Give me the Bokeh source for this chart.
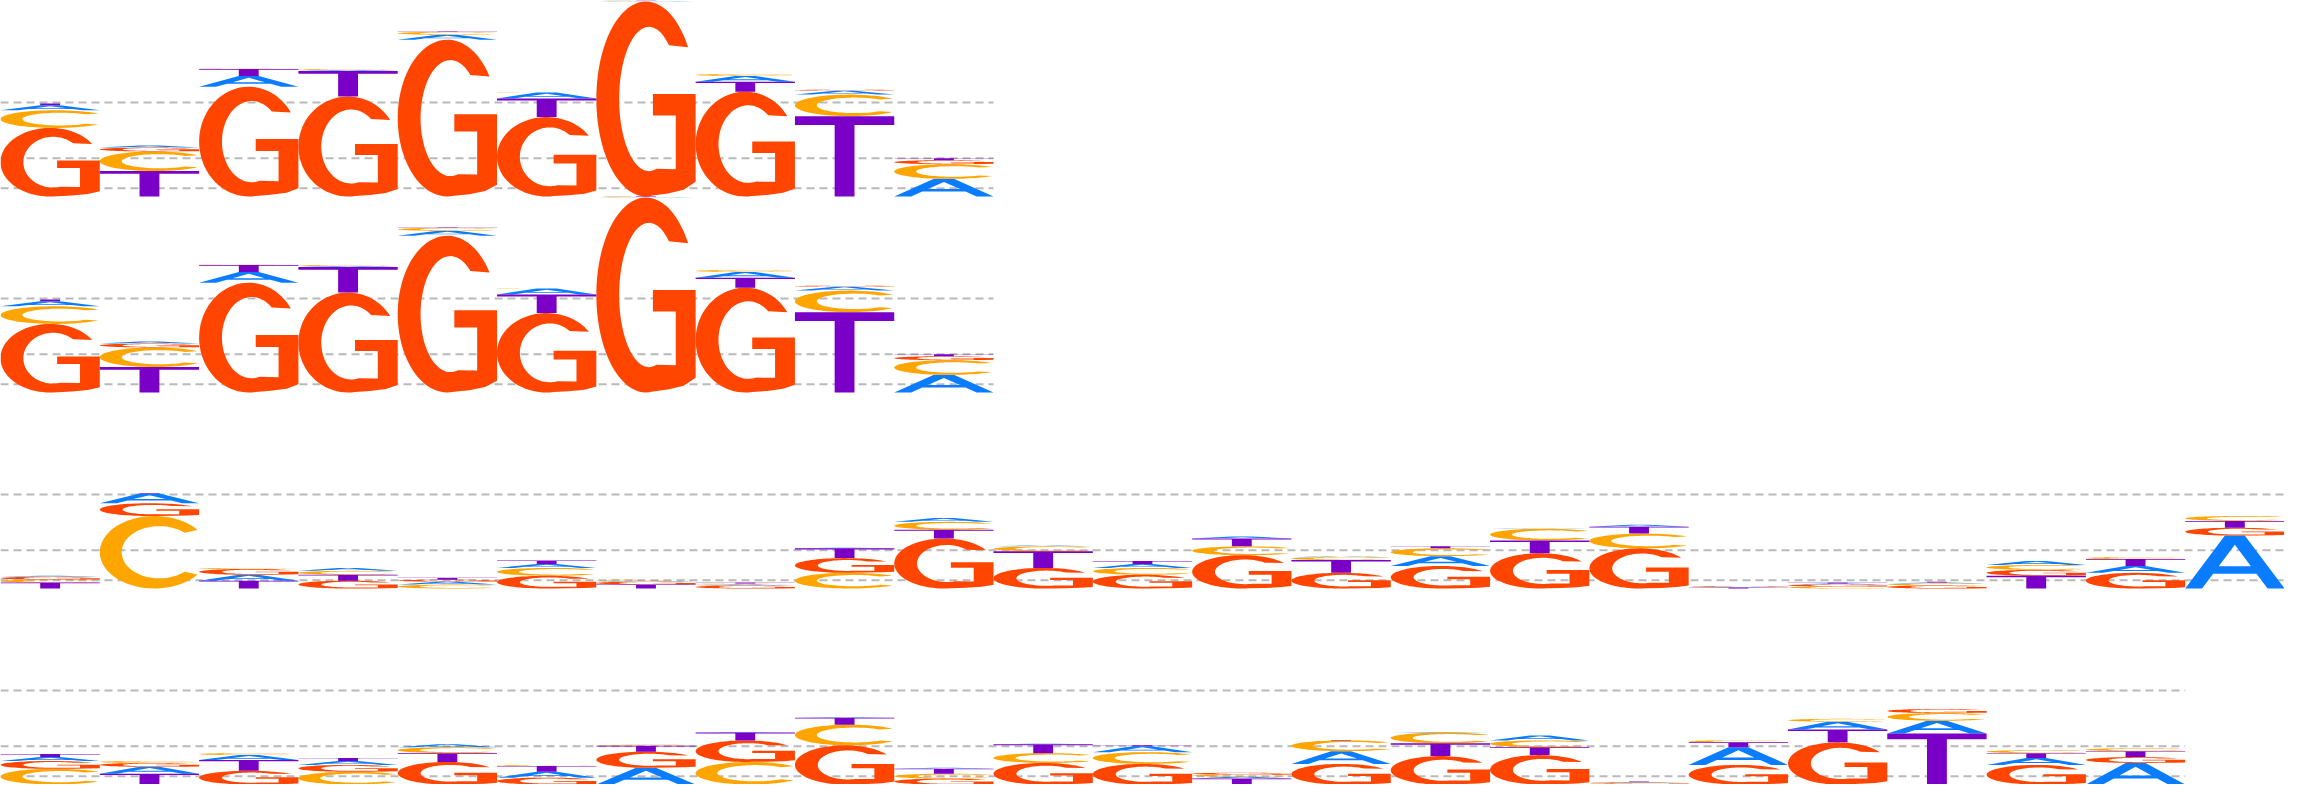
import numpy as np
from bokeh.plotting import figure
from bokeh.models import Range1d, ColumnDataSource
from bokeh.embed import file_html
from bokeh.resources import INLINE

# ---------------- data (bits per letter, per position) ----------------
letters = ["A", "C", "G", "T"]

logo1_A = [0.05, 0.02, 0.11, 0.01, 0.05, 0.06, 0.005, 0.06, 0.04, 0.18]
logo1_C = [0.18, 0.20, 0.005, 0.01, 0.03, 0.005, 0.005, 0.02, 0.22, 0.15]
logo1_G = [0.70, 0.04, 1.12, 1.02, 1.60, 0.81, 1.99, 1.07, 0.01, 0.04]
logo1_T = [0.02, 0.26, 0.07, 0.26, 0.005, 0.19, 0.005, 0.10, 0.82, 0.02]

logo2_A = [0.05, 0.02, 0.11, 0.01, 0.05, 0.06, 0.005, 0.06, 0.04, 0.18]
logo2_C = [0.18, 0.20, 0.005, 0.01, 0.03, 0.005, 0.005, 0.02, 0.22, 0.15]
logo2_G = [0.70, 0.04, 1.12, 1.02, 1.60, 0.81, 1.99, 1.07, 0.01, 0.04]
logo2_T = [0.02, 0.26, 0.07, 0.26, 0.005, 0.19, 0.005, 0.10, 0.82, 0.02]

logo3_A = [0.01, 0.10, 0.06, 0.03, 0.03, 0.04, 0.01, 0.01, 0.005, 0.04, 0.01, 0.04,
           0.02, 0.01, 0.10, 0.005, 0.02, 0.005, 0.01, 0.01, 0.04, 0.07, 0.54]
logo3_C = [0.03, 0.74, 0.01, 0.04, 0.04, 0.08, 0.01, 0.01, 0.16, 0.08, 0.05, 0.07,
           0.09, 0.03, 0.08, 0.12, 0.15, 0.005, 0.02, 0.02, 0.05, 0.02, 0.05]
logo3_G = [0.03, 0.13, 0.06, 0.08, 0.02, 0.13, 0.03, 0.03, 0.15, 0.51, 0.21, 0.14,
           0.34, 0.16, 0.23, 0.36, 0.41, 0.005, 0.02, 0.03, 0.06, 0.16, 0.08]
logo3_T = [0.06, 0.005, 0.08, 0.06, 0.02, 0.035, 0.04, 0.01, 0.10, 0.09, 0.17, 0.03,
           0.08, 0.13, 0.02, 0.13, 0.07, 0.01, 0.01, 0.01, 0.13, 0.07, 0.07]

logo4_A = [0.04, 0.07, 0.05, 0.04, 0.03, 0.06, 0.17, 0.005, 0.005, 0.01, 0.005,
           0.06, 0.02, 0.13, 0.005, 0.05, 0.005, 0.18, 0.08, 0.13, 0.07, 0.22]
logo4_C = [0.16, 0.02, 0.02, 0.13, 0.06, 0.01, 0.01, 0.23, 0.21, 0.05, 0.10,
           0.12, 0.02, 0.11, 0.11, 0.07, 0.01, 0.02, 0.03, 0.08, 0.03, 0.03]
logo4_G = [0.08, 0.04, 0.14, 0.07, 0.23, 0.07, 0.165, 0.22, 0.40, 0.06, 0.22,
           0.21, 0.02, 0.21, 0.29, 0.30, 0.01, 0.20, 0.43, 0.04, 0.20, 0.06]
logo4_T = [0.03, 0.11, 0.11, 0.03, 0.09, 0.06, 0.06, 0.08, 0.07, 0.05, 0.09,
           0.01, 0.06, 0.005, 0.13, 0.08, 0.005, 0.05, 0.13, 0.52, 0.05, 0.06]

guide_levels = [0.083, 0.39, 0.96]

logos = [
    {"A": logo1_A, "C": logo1_C, "G": logo1_G, "T": logo1_T},
    {"A": logo2_A, "C": logo2_C, "G": logo2_G, "T": logo2_T},
    {"A": logo3_A, "C": logo3_C, "G": logo3_G, "T": logo3_T},
    {"A": logo4_A, "C": logo4_C, "G": logo4_G, "T": logo4_T},
]

colors = {"A": "#0a7cff", "C": "#ffa500", "G": "#ff4500", "T": "#7a00c8"}

ROW_H = 2.0
N_ROWS = len(logos)


# ---------------- letter outlines in a unit box ----------------
def arc(cx, cy, rx, ry, a0, a1, n=60):
    t = np.radians(np.linspace(a0, a1, n))
    return list(cx + rx * np.cos(t)), list(cy + ry * np.sin(t))


def shape_A():
    outer = [(0, 0), (0.4, 1), (0.6, 1), (1, 0), (0.83, 0), (0.718, 0.28),
             (0.282, 0.28), (0.17, 0)]
    hole = [(0.338, 0.42), (0.5, 0.825), (0.662, 0.42)]
    return [([q[0] for q in outer], [q[1] for q in outer]),
            ([q[0] for q in hole], [q[1] for q in hole])]


def shape_T():
    pts = [(0, 1), (1, 1), (1, 0.89), (0.6, 0.89), (0.6, 0), (0.4, 0),
           (0.4, 0.89), (0, 0.89)]
    return [([q[0] for q in pts], [q[1] for q in pts])]


def shape_C():
    ox, oy = arc(0.55, 0.5, 0.55, 0.5, 38, 322)
    ix, iy = arc(0.6, 0.5, 0.38, 0.36, 312, 48)
    return [(ox + ix, oy + iy)]


def shape_G():
    ox, oy = arc(0.5, 0.5, 0.5, 0.5, 32, 278)
    mid = [(0.72, 0.015), (0.88, 0.035), (1.0, 0.075), (1.0, 0.525),
           (0.57, 0.525), (0.57, 0.415), (0.8, 0.415), (0.8, 0.14)]
    ix, iy = arc(0.53, 0.5, 0.3, 0.37, 285, 48)
    xs = ox + [q[0] for q in mid] + ix
    ys = oy + [q[1] for q in mid] + iy
    return [(xs, ys)]


shapes = {"A": shape_A(), "C": shape_C(), "G": shape_G(), "T": shape_T()}

# ---------------- figure ----------------
W, H = 2284, 784
n_max = max(len(l["A"]) for l in logos)
p = figure(width=W, height=H, x_range=Range1d(0, n_max),
           y_range=Range1d(0, ROW_H * N_ROWS),
           output_backend="svg", toolbar_location=None, min_border=0)
p.axis.visible = False
p.grid.visible = False
p.outline_line_color = None
p.background_fill_color = "white"
p.border_fill_color = "white"

# guide lines (behind letters)
gx0, gx1, gy = [], [], []
for r, logo in enumerate(logos):
    base = ROW_H * (N_ROWS - 1 - r)
    npos = len(logo["A"])
    for lv in guide_levels:
        gx0.append(0)
        gx1.append(npos)
        gy.append(base + lv)
p.segment(x0=gx0, x1=gx1, y0=gy, y1=gy, line_color="#b9b9b9",
          line_width=2, line_dash="8 5")

# letters
glyphs = {k: {"xs": [], "ys": []} for k in letters}
for r, logo in enumerate(logos):
    base = ROW_H * (N_ROWS - 1 - r)
    npos = len(logo["A"])
    for i in range(npos):
        vals = sorted([(logo[k][i], k) for k in letters], key=lambda t: -t[0])
        y = base
        for h, k in vals:
            rings_x, rings_y = [], []
            for (ux, uy) in shapes[k]:
                rings_x.append([i + u for u in ux])
                rings_y.append([y + v * h for v in uy])
            glyphs[k]["xs"].append([rings_x])
            glyphs[k]["ys"].append([rings_y])
            y += h

for k in letters:
    src = ColumnDataSource(dict(xs=glyphs[k]["xs"], ys=glyphs[k]["ys"]))
    p.multi_polygons(xs="xs", ys="ys", source=src, fill_color=colors[k],
                     line_color=None)

open("out.html", "w").write(file_html(p, INLINE))
